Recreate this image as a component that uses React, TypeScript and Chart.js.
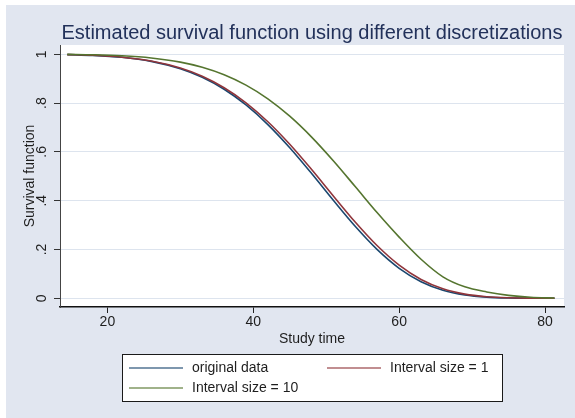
import React, { useEffect, useRef } from 'react';
import { Chart, registerables } from 'chart.js';

Chart.register(...registerables);

const FONT = "'Liberation Sans', Arial, Helvetica, sans-serif";

const TITLE = 'Estimated survival function using different discretizations';
const X_TITLE = 'Study time';
const Y_TITLE = 'Survival function';

const SERIES_LABELS = ['original data', 'Interval size = 1', 'Interval size = 10'];
const SERIES_COLORS = ['#1A476F', '#90353B', '#55752F'];

const TIMES = [14.5, 18, 22, 26, 30, 33, 36, 39, 42, 45, 48, 51, 54, 57, 60, 63, 66, 69, 72, 75, 78, 81.3];
const ORIGINAL = [0.9985, 0.9955, 0.9875, 0.971, 0.9407, 0.9055, 0.8566, 0.7923, 0.7118, 0.6168, 0.511, 0.4006, 0.2939, 0.1993, 0.1229, 0.068, 0.0331, 0.0139, 0.0049, 0.0014, 0.0004, 0.0001];
const INTERVAL_1 = [0.9986, 0.9957, 0.9881, 0.9723, 0.9435, 0.9098, 0.8629, 0.8012, 0.7235, 0.6312, 0.5276, 0.4185, 0.3116, 0.2152, 0.1359, 0.0773, 0.039, 0.0171, 0.0064, 0.002, 0.0005, 0.0001];
const INTERVAL_10 = [0.9994, 0.9979, 0.9939, 0.985, 0.9678, 0.9467, 0.916, 0.8735, 0.8174, 0.7462, 0.6606, 0.5626, 0.4569, 0.3504, 0.2508, 0.16, 0.088, 0.047, 0.026, 0.012, 0.004, 0.001];

const X_TICKS = [20, 40, 60, 80];
const Y_TICKS = [0, 0.2, 0.4, 0.6, 0.8, 1];
const Y_TICK_LABELS = ['0', '.2', '.4', '.6', '.8', '1'];

const BG = '#E1E6F0';
const GRID = '#DDE4EE';
const TEXT = '#1E1E1E';

const backgroundPlugin = {
  id: 'stataBackground',
  beforeDraw(chart: any) {
    const { ctx, width, height, chartArea } = chart;
    ctx.save();
    ctx.fillStyle = '#FFFFFF';
    ctx.fillRect(0, 0, width, height);
    ctx.fillStyle = BG;
    ctx.fillRect(6, 5, width - 6, height - 5);
    ctx.fillStyle = '#FFFFFF';
    ctx.fillRect(chartArea.left, chartArea.top, chartArea.right - chartArea.left, chartArea.bottom - chartArea.top);
    ctx.restore();
  },
};

const legendPlugin = {
  id: 'stataLegend',
  afterDraw(chart: any) {
    const { ctx, chartArea } = chart;
    const xScale = chart.scales.x;
    const boxW = 380;
    const boxH = 47;
    const cx = (chartArea.left + chartArea.right) / 2;
    const x0 = Math.round(cx - boxW / 2);
    const y0 = Math.round(xScale.bottom + 6);
    ctx.save();
    ctx.fillStyle = '#FFFFFF';
    ctx.fillRect(x0, y0, boxW, boxH);
    ctx.strokeStyle = '#1A1A1A';
    ctx.lineWidth = 1;
    ctx.strokeRect(x0 + 0.5, y0 + 0.5, boxW, boxH);
    const cols = [0, 198];
    const rows = [14, 34];
    chart.data.datasets.forEach((ds: any, i: number) => {
      const col = cols[i % 2];
      const row = rows[Math.floor(i / 2)];
      const ly = y0 + row;
      ctx.strokeStyle = ds.borderColor;
      ctx.globalAlpha = 0.75;
      ctx.lineWidth = 1.6;
      ctx.beginPath();
      ctx.moveTo(x0 + 7 + col, ly);
      ctx.lineTo(x0 + 61 + col, ly);
      ctx.stroke();
      ctx.globalAlpha = 1;
      ctx.fillStyle = TEXT;
      ctx.font = `14px ${FONT}`;
      ctx.textBaseline = 'middle';
      ctx.textAlign = 'left';
      ctx.fillText(ds.label, x0 + 70 + col, ly);
    });
    ctx.restore();
  },
};

export default function App() {
  const canvasRef = useRef<HTMLCanvasElement | null>(null);

  useEffect(() => {
    document.body.style.margin = '0';
    const canvas = canvasRef.current;
    if (!canvas) return;
    const seriesValues = [ORIGINAL, INTERVAL_1, INTERVAL_10];
    const drawOrder = [3, 2, 1];
    const chart = new Chart(canvas, {
      type: 'line',
      data: {
        datasets: seriesValues.map((vals, i) => ({
          label: SERIES_LABELS[i],
          data: TIMES.map((t, j) => ({ x: t, y: vals[j] })),
          borderColor: SERIES_COLORS[i],
          backgroundColor: SERIES_COLORS[i],
          borderWidth: 1.6,
          pointRadius: 0,
          cubicInterpolationMode: 'monotone',
          fill: false,
          order: drawOrder[i],
        })),
      },
      options: {
        animation: false,
        responsive: false,
        devicePixelRatio: 1,
        events: [],
        layout: { padding: { left: 0, right: 11, top: 0, bottom: 70 } },
        plugins: {
          legend: { display: false },
          tooltip: { enabled: false },
          title: {
            display: true,
            fullSize: false,
            text: TITLE,
            color: '#22315A',
            font: { family: FONT, size: 20, weight: 'normal' },
            padding: { top: 21, bottom: 0 },
          },
        },
        scales: {
          x: {
            type: 'linear',
            min: 13.5,
            max: 82.6,
            afterBuildTicks: (s: any) => {
              s.ticks = X_TICKS.map((v) => ({ value: v }));
            },
            afterFit: (s: any) => {
              s.height = 41;
            },
            grid: { drawOnChartArea: false, drawTicks: true, tickLength: 6, tickColor: '#222', tickWidth: 1 },
            border: { display: true, color: '#111', width: 1.5 },
            ticks: {
              color: TEXT,
              font: { family: FONT, size: 14 },
              padding: 1,
              maxRotation: 0,
              autoSkip: false,
              callback: (v: any) => String(v),
            },
            title: {
              display: true,
              text: X_TITLE,
              color: TEXT,
              font: { family: FONT, size: 14 },
              padding: { top: 0, bottom: 0 },
            },
          },
          y: {
            type: 'linear',
            min: -0.0357,
            max: 1.038,
            afterBuildTicks: (s: any) => {
              s.ticks = Y_TICKS.map((v) => ({ value: v }));
            },
            afterFit: (s: any) => {
              s.width = 60;
            },
            grid: { color: GRID, lineWidth: 1, drawTicks: true, tickLength: 6, tickColor: '#333', tickWidth: 1 },
            border: { display: true, color: '#444', width: 1 },
            ticks: {
              color: TEXT,
              font: { family: FONT, size: 14 },
              minRotation: 90,
              maxRotation: 90,
              crossAlign: 'center',
              padding: 6,
              autoSkip: false,
              callback: (value: any) => {
                const i = Y_TICKS.findIndex((t) => Math.abs(t - Number(value)) < 1e-9);
                return i >= 0 ? Y_TICK_LABELS[i] : '';
              },
            },
            title: {
              display: true,
              text: Y_TITLE,
              color: TEXT,
              font: { family: FONT, size: 14 },
              padding: { top: 22, bottom: 0 },
            },
          },
        },
      } as any,
      plugins: [backgroundPlugin, legendPlugin],
    });
    return () => chart.destroy();
  }, []);

  return (
    <div style={{ position: 'fixed', left: 0, top: 0, width: 575, height: 418 }}>
      <canvas ref={canvasRef} width={575} height={418} style={{ display: 'block', width: 575, height: 418 }} />
    </div>
  );
}
